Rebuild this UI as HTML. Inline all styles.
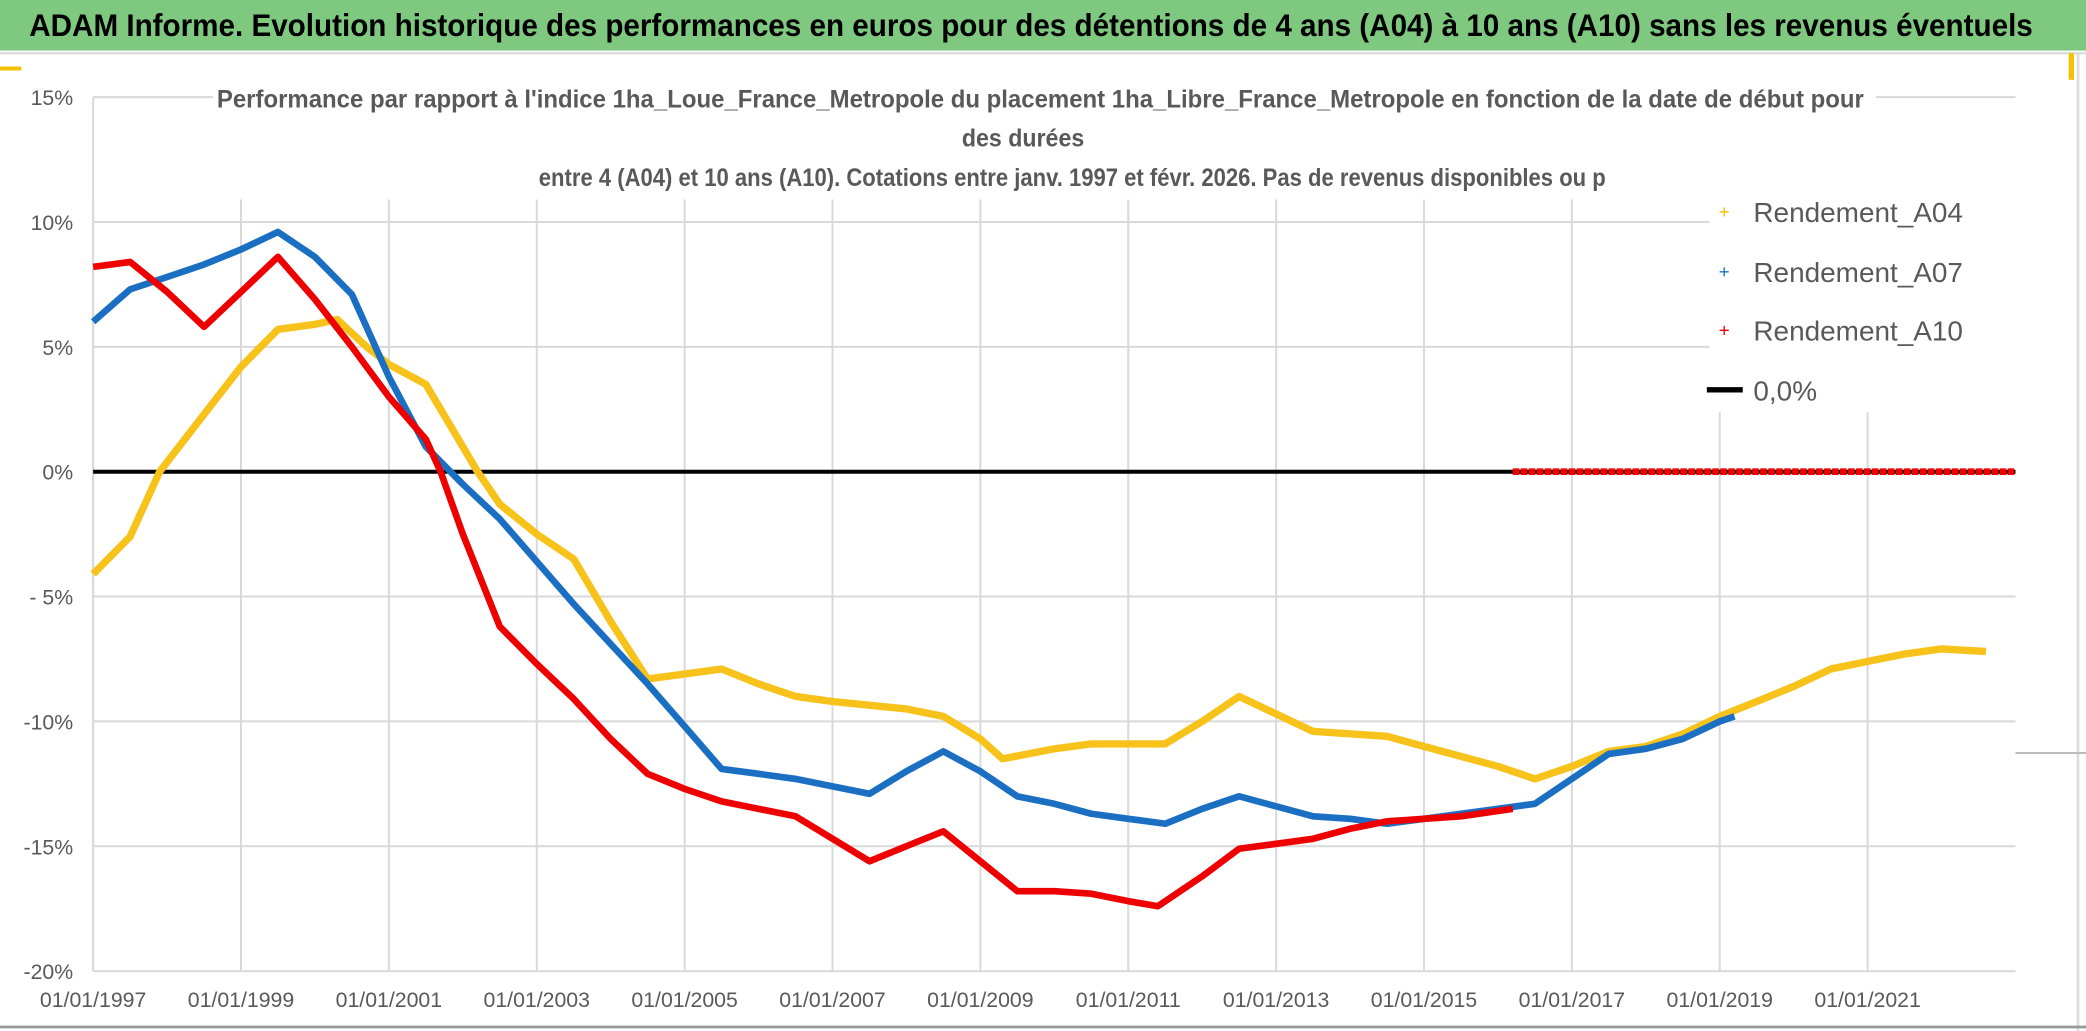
<!DOCTYPE html>
<html><head><meta charset="utf-8"><style>
html,body{margin:0;padding:0;background:#fff;}
svg{display:block;font-family:"Liberation Sans",sans-serif;}
</style></head><body>
<svg id="chart" width="2086" height="1031" viewBox="0 0 1568 775" preserveAspectRatio="none" xmlns="http://www.w3.org/2000/svg">
<rect x="0" y="0" width="1568" height="775" fill="#fff"/>
<rect x="0" y="0" width="1568" height="38" fill="#7ec87f"/>
<text x="22" y="27" font-size="24" font-weight="bold" fill="#000" textLength="1506" lengthAdjust="spacingAndGlyphs">ADAM Informe. Evolution historique des performances en euros pour des détentions de 4 ans (A04) à 10 ans (A10) sans les revenus éventuels</text>
<line x1="0" y1="40" x2="1568" y2="40" stroke="#ddd" stroke-width="2"/>
<rect x="0" y="50" width="16" height="3" fill="#f5c000"/>
<rect x="1555" y="40" width="4" height="20" fill="#f5c000"/>
<line x1="1562" y1="40" x2="1562" y2="775" stroke="#ddd" stroke-width="2"/>
<line x1="0" y1="772" x2="1568" y2="772" stroke="#999" stroke-width="2"/>
<line x1="1515" y1="566" x2="1568" y2="566" stroke="#bbb" stroke-width="1.5"/>
<g id="grid"></g>
<g id="axes"></g>
<g id="series"></g>
<rect x="160" y="58" width="1250" height="90" fill="#fff"/>
<g fill="#595959" font-size="19" font-weight="bold" text-anchor="middle">
<text x="782" y="81" textLength="1238" lengthAdjust="spacingAndGlyphs">Performance par rapport à l'indice 1ha_Loue_France_Metropole  du placement 1ha_Libre_France_Metropole en fonction de la date de début pour</text>
<text x="769" y="110" textLength="92" lengthAdjust="spacingAndGlyphs">des durées</text>
<text x="806" y="140" textLength="802" lengthAdjust="spacingAndGlyphs">entre 4 (A04) et 10 ans (A10). Cotations entre janv. 1997 et févr. 2026. Pas de revenus disponibles ou p</text>
</g>
<line x1="70" y1="73" x2="160" y2="73" stroke="#d9d9d9" stroke-width="1.5"/>
<g>
<rect x="1285" y="140" width="245" height="170" fill="#fff"/>
<g><text x="1296" y="164" font-size="14" fill="#f5c000" text-anchor="middle">+</text><text x="1318" y="167" font-size="21" fill="#595959">Rendement_A04</text></g>
<g><text x="1296" y="209" font-size="14" fill="#1a6fc2" text-anchor="middle">+</text><text x="1318" y="212" font-size="21" fill="#595959">Rendement_A07</text></g>
<g><text x="1296" y="253" font-size="14" fill="#ee0000" text-anchor="middle">+</text><text x="1318" y="256" font-size="21" fill="#595959">Rendement_A10</text></g>
<g><line x1="1283" y1="293" x2="1310" y2="293" stroke="#000" stroke-width="4"/><text x="1318" y="301" font-size="21" fill="#595959">0,0%</text></g>
</g>
</svg>
<script>
const yTickValues = [15,10,5,0,-5,-10,-15,-20];
const yTickLabels = ["15%","10%","5%","0%","- 5%","-10%","-15%","-20%"];
const xTickYears = [1997,1999,2001,2003,2005,2007,2009,2011,2013,2015,2017,2019,2021];
const xTickLabels = ["01/01/1997","01/01/1999","01/01/2001","01/01/2003","01/01/2005","01/01/2007","01/01/2009","01/01/2011","01/01/2013","01/01/2015","01/01/2017","01/01/2019","01/01/2021"];
const a04Years = [1997,1997.5,1997.9,1998.5,1999,1999.5,2000,2000.3,2000.7,2001,2001.5,2002,2002.2,2002.5,2003,2003.5,2004,2004.5,2005,2005.5,2006,2006.5,2007,2008,2008.5,2009,2009.3,2010,2010.5,2011.5,2012,2012.5,2013,2013.5,2014.5,2015,2016,2016.5,2017,2017.5,2018,2018.5,2019,2019.5,2020,2020.5,2021,2021.5,2022,2022.6];
const a04Values = [-4.1,-2.6,0,2.3,4.2,5.7,5.9,6.1,5.0,4.3,3.5,1.0,0,-1.3,-2.5,-3.5,-6.0,-8.3,-8.1,-7.9,-8.5,-9.0,-9.2,-9.5,-9.8,-10.7,-11.5,-11.1,-10.9,-10.9,-10.0,-9.0,-9.7,-10.4,-10.6,-11.0,-11.8,-12.3,-11.8,-11.2,-11.0,-10.5,-9.8,-9.2,-8.6,-7.9,-7.6,-7.3,-7.1,-7.2];
const a07Years = [1997,1997.5,1998,1998.5,1999,1999.5,2000,2000.5,2001,2001.5,2002,2002.5,2003,2003.5,2004,2004.5,2005,2005.5,2006,2006.5,2007,2007.5,2008,2008.5,2009,2009.5,2010,2010.5,2011,2011.5,2012,2012.5,2013,2013.5,2014,2014.5,2015,2015.5,2016,2016.5,2017,2017.5,2018,2018.5,2019,2019.2];
const a07Values = [6.0,7.3,7.8,8.3,8.9,9.6,8.6,7.1,3.8,1.0,-0.5,-1.9,-3.6,-5.3,-6.9,-8.5,-10.2,-11.9,-12.1,-12.3,-12.6,-12.9,-12.0,-11.2,-12.0,-13.0,-13.3,-13.7,-13.9,-14.1,-13.5,-13.0,-13.4,-13.8,-13.9,-14.1,-13.9,-13.7,-13.5,-13.3,-12.3,-11.3,-11.1,-10.7,-10.0,-9.8];
const a10Years = [1997,1997.5,1998,1998.5,1999,1999.5,2000,2000.5,2001,2001.5,2001.7,2002,2002.5,2003,2003.5,2004,2004.5,2005,2005.5,2006,2006.5,2007,2007.5,2008,2008.5,2009,2009.5,2010,2010.5,2011,2011.4,2012,2012.5,2013,2013.5,2014,2014.5,2015,2015.5,2016.2];
const a10Values = [8.2,8.4,7.2,5.8,7.2,8.6,6.9,5.0,3.0,1.3,0,-2.5,-6.2,-7.7,-9.1,-10.7,-12.1,-12.7,-13.2,-13.5,-13.8,-14.7,-15.6,-15.0,-14.4,-15.6,-16.8,-16.8,-16.9,-17.2,-17.4,-16.2,-15.1,-14.9,-14.7,-14.3,-14.0,-13.9,-13.8,-13.5];
const a10ZeroYears = [2016.2,2023];
const a10ZeroValues = [0,0];
const zeroLineYears = [1997,2023];
const zeroLineValues = [0,0];

const NS = "http://www.w3.org/2000/svg";
const X0 = 70, X1 = 1515, YEAR0 = 1997, YEAR1 = 2023;
const YTOP = 73, YBOT = 730, VTOP = 15, VBOT = -20;
function xs(y){ return X0 + (y - YEAR0) / (YEAR1 - YEAR0) * (X1 - X0); }
function ys(v){ return YTOP + (VTOP - v) / (VTOP - VBOT) * (YBOT - YTOP); }
function mk(tag, attrs, parent){ const e = document.createElementNS(NS, tag); for (const k in attrs) e.setAttribute(k, attrs[k]); parent.appendChild(e); return e; }

const grid = document.getElementById('grid');
const axes = document.getElementById('axes');
const series = document.getElementById('series');

yTickValues.forEach((v, i) => {
  const l = mk('line', {x1: X0, x2: X1, y1: ys(v), y2: ys(v), stroke: '#d9d9d9', 'stroke-width': 1.5}, grid);
  
  
  const t = mk('text', {x: 55, y: ys(v) + 6, 'text-anchor': 'end', 'font-size': 16, fill: '#595959'}, axes);
  t.textContent = yTickLabels[i];
  
  
});
xTickYears.forEach((yr, i) => {
  const l = mk('line', {x1: xs(yr), x2: xs(yr), y1: 150, y2: YBOT, stroke: '#d9d9d9', 'stroke-width': 1.5}, grid);
  
  
  const t = mk('text', {x: xs(yr), y: 757, 'text-anchor': 'middle', 'font-size': 16, fill: '#595959'}, axes);
  t.textContent = xTickLabels[i];
  
  
});
const yAxis = mk('line', {x1: X0, x2: X0, y1: YTOP, y2: YBOT, stroke: '#d9d9d9', 'stroke-width': 1.5}, grid);



function pts(xa, va){ return xa.map((x, i) => xs(x).toFixed(1) + ',' + ys(va[i]).toFixed(1)).join(' '); }
function line(xa, va, color, w, name, dash){
  const p = mk('polyline', {points: pts(xa, va), fill: 'none', stroke: color, 'stroke-width': w, 'stroke-linejoin': 'round'}, series);
  if (dash) p.setAttribute('stroke-dasharray', dash);
  
  
}
line(zeroLineYears, zeroLineValues, '#000', 3, 'zero-line');
line(a04Years, a04Values, '#f7c21a', 5.5, 'series-a04');
line(a07Years, a07Values, '#1a6fc2', 5, 'series-a07');
line(a10Years, a10Values, '#ee0000', 5, 'series-a10');
line(a10ZeroYears, a10ZeroValues, '#ee0000', 5, 'series-a10-zero', '5,1');
</script>
</body></html>
